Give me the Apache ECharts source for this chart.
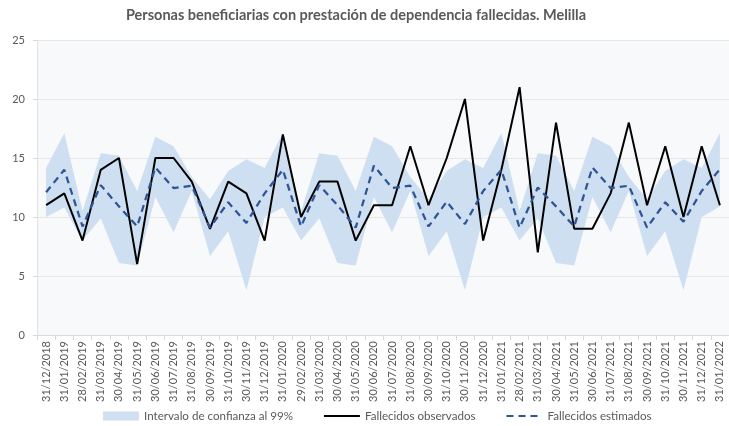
<!DOCTYPE html>
<html>
<head>
<meta charset="utf-8">
<script src="https://cdn.jsdelivr.net/npm/echarts@6/dist/echarts.min.js"></script>
<style>
  html, body { margin: 0; padding: 0; background: #ffffff; }
  #chart { width: 729px; height: 426px; }
</style>
</head>
<body>
<div id="chart"></div>
<script>
// Monthly dates (end of month)
var fechas = [
  '31/12/2018','31/01/2019','28/02/2019','31/03/2019','30/04/2019','31/05/2019',
  '30/06/2019','31/07/2019','31/08/2019','30/09/2019','31/10/2019','30/11/2019',
  '31/12/2019','31/01/2020','29/02/2020','31/03/2020','30/04/2020','31/05/2020',
  '30/06/2020','31/07/2020','31/08/2020','30/09/2020','31/10/2020','30/11/2020',
  '31/12/2020','31/01/2021','28/02/2021','31/03/2021','30/04/2021','31/05/2021',
  '30/06/2021','31/07/2021','31/08/2021','30/09/2021','31/10/2021','30/11/2021',
  '31/12/2021','31/01/2022'
];

// Observed deaths
var observados = [
  11, 12, 8, 14, 15, 6, 15, 15, 13, 9, 13, 12,
  8, 17, 10, 13, 13, 8, 11, 11, 16, 11, 15, 20,
  8, 14, 21, 7, 18, 9, 9, 12, 18, 11, 16, 10,
  16, 11
];

// Estimated deaths
var estimados = [
  12.1, 14.0, 9.2, 12.7, 10.9, 9.2, 14.2, 12.45, 12.65, 9.1, 11.25, 9.5,
  12.0, 14.0, 9.2, 12.7, 11.0, 9.1, 14.35, 12.45, 12.65, 9.2, 11.3, 9.4,
  12.2, 14.0, 9.1, 12.5, 10.9, 9.2, 14.2, 12.45, 12.65, 9.1, 11.25, 9.6,
  12.2, 14.05
];

// 99% confidence interval bounds
var limiteSuperior = [
  14.15, 17.1, 10.5, 15.4, 15.2, 12.2, 16.8, 16.0, 13.4, 11.5, 13.9, 14.9,
  14.15, 17.1, 10.5, 15.4, 15.2, 12.2, 16.8, 16.0, 13.4, 11.5, 13.9, 14.9,
  14.15, 17.1, 10.5, 15.4, 15.2, 12.2, 16.8, 16.0, 13.4, 11.5, 13.9, 14.9,
  14.15, 17.1
];
var limiteInferior = [
  10.0, 10.8, 8.0, 9.9, 6.1, 5.9, 11.7, 8.7, 12.2, 6.7, 8.8, 3.8,
  10.0, 10.8, 8.0, 9.9, 6.1, 5.9, 11.7, 8.7, 12.2, 6.7, 8.8, 3.8,
  10.0, 10.8, 8.0, 9.9, 6.1, 5.9, 11.7, 8.7, 12.2, 6.7, 8.8, 3.8,
  10.0, 10.9
];

var yTicks = { min: 0, max: 25, interval: 5 };

// Band is drawn as a stacked area: transparent base + (upper - lower)
var anchoBanda = limiteSuperior.map(function (v, i) { return +(v - limiteInferior[i]).toFixed(3); });

var FONT = 'Lato, "Open Sans", sans-serif';
var TEXT = '#595959';
var BAND = '#cddff0';
var AZUL = '#2f5496';

var chart = echarts.init(document.getElementById('chart'), null, { renderer: 'canvas' });
chart.setOption({
  animation: false,
  backgroundColor: '#ffffff',
  title: {
    text: 'Personas beneficiarias con prestación de dependencia fallecidas. Melilla',
    left: 351, top: 3, textAlign: 'center',
    textStyle: { fontFamily: FONT, fontSize: 14.5, fontWeight: 'bold', color: TEXT }
  },
  legend: {
    top: 410, left: 103, padding: 0,
    itemWidth: 36, itemHeight: 9, itemGap: 30,
    textStyle: { fontFamily: FONT, fontSize: 11.6, color: TEXT },
    data: [
      { name: 'Intervalo de confianza al 99%', icon: 'rect' },
      { name: 'Fallecidos observados', itemStyle: { opacity: 0 } },
      { name: 'Fallecidos estimados', itemStyle: { opacity: 0 } }
    ]
  },
  grid: {
    left: 37, right: -4, top: 40, bottom: 91,
    show: true, backgroundColor: '#f8f9fb', borderWidth: 0
  },
  xAxis: {
    type: 'category',
    data: fechas,
    boundaryGap: true,
    axisLine: { show: true, lineStyle: { color: '#d9d9d9', width: 1 } },
    axisTick: { show: true, length: 5, lineStyle: { color: '#d9d9d9' } },
    axisLabel: {
      rotate: 90, interval: 0, margin: 6,
      fontFamily: FONT, fontSize: 11, color: TEXT
    },
    splitLine: { show: false }
  },
  yAxis: {
    type: 'value',
    min: yTicks.min, max: yTicks.max, interval: yTicks.interval,
    axisLine: { show: true, lineStyle: { color: '#e3e3e3' } },
    axisTick: { show: true, length: 4, lineStyle: { color: '#d9d9d9' } },
    axisLabel: { margin: 12, fontFamily: FONT, fontSize: 11, color: TEXT },
    splitLine: { show: true, lineStyle: { color: '#e6e6e6', width: 1 } }
  },
  series: [
    {
      name: 'base', type: 'line', stack: 'banda', data: limiteInferior,
      symbol: 'none', lineStyle: { width: 0, opacity: 0 }, areaStyle: { opacity: 0 },
      silent: true, z: 1
    },
    {
      name: 'Intervalo de confianza al 99%', type: 'line', stack: 'banda', data: anchoBanda,
      symbol: 'none', lineStyle: { width: 0, opacity: 0 },
      itemStyle: { color: BAND },
      areaStyle: { color: BAND, opacity: 1 },
      silent: true, z: 1
    },
    {
      name: 'Fallecidos observados', type: 'line', data: observados,
      symbol: 'none',
      itemStyle: { color: '#000000' },
      lineStyle: { color: '#000000', width: 2 },
      z: 3
    },
    {
      name: 'Fallecidos estimados', type: 'line', data: estimados,
      symbol: 'none',
      itemStyle: { color: AZUL },
      lineStyle: { color: AZUL, width: 2.25, type: [7, 5] },
      z: 4
    }
  ]
});
</script>
</body>
</html>
